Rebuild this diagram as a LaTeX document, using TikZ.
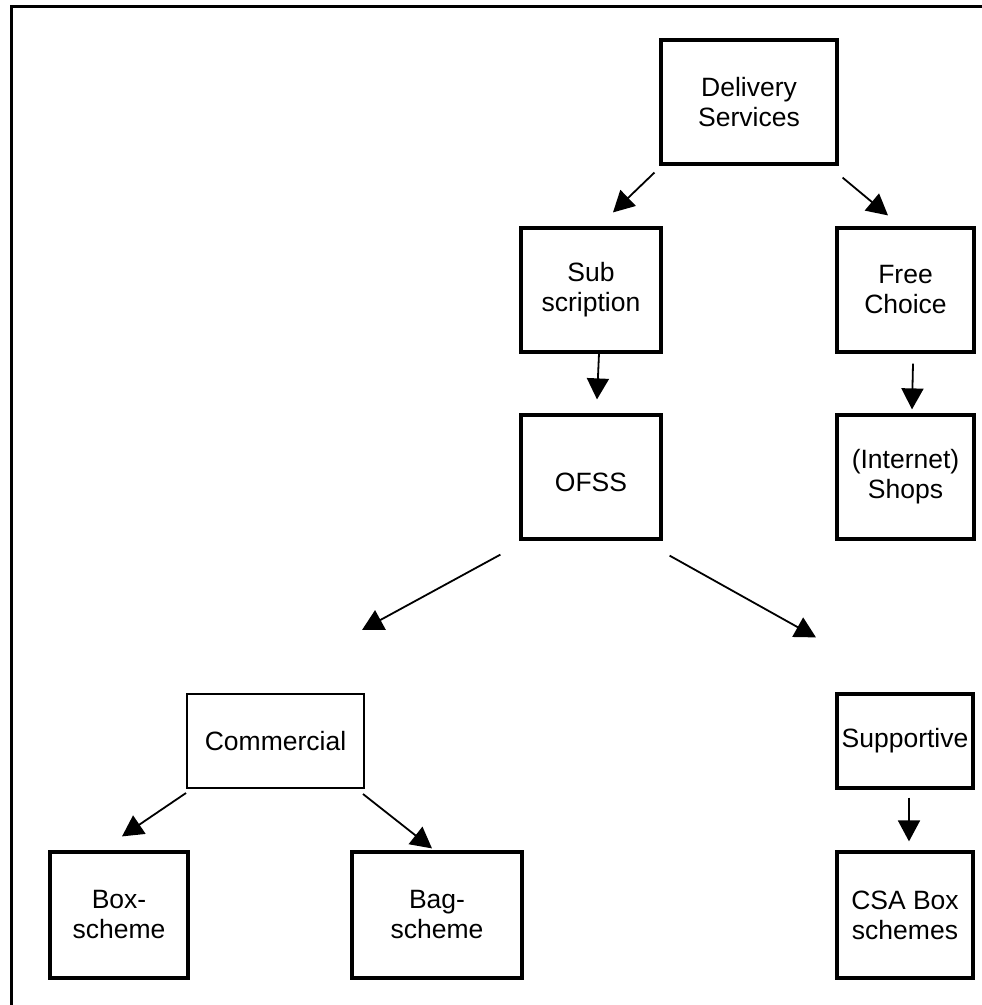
\documentclass[tikz,border=0pt]{standalone}
\usepackage{fontspec}
\setmainfont{Liberation Sans}
\usetikzlibrary{arrows.meta,calc}
\begin{document}
\begin{tikzpicture}[x=1pt,y=-1pt,
  box/.style={draw,line width=3.2pt,rectangle,inner sep=0pt,align=center,
    font=\fontsize{26.5}{30}\selectfont},
  thinbox/.style={box,line width=2pt},
  arr/.style={line width=1.8pt,-{Triangle[length=21pt,width=22pt]}},
  frame/.style={line width=2.8pt}]
\useasboundingbox (0,0) rectangle (982,1005);
\draw[frame] (11.8,1006) -- (11.8,6.7) -- (983,6.7);

\node[box,minimum width=176pt,minimum height=124pt] (del) at (749,102) {Delivery\\Services};
\node[box,minimum width=140pt,minimum height=124pt] (sub) at (591,290) {Sub\\scription};
\node[box,minimum width=137pt,minimum height=124pt] (free) at (905.5,290) {Free\\Choice};
\node[box,minimum width=140pt,minimum height=124pt] (ofss) at (591,477) {\mbox{}\\OFSS};
\node[box,minimum width=137pt,minimum height=124pt] (shops) at (905.5,477) {(Internet)\\Shops};
\node[thinbox,minimum width=177pt,minimum height=94pt] (com) at (275.5,741) {Commercial};
\node[box,minimum width=136pt,minimum height=94pt] (sup) at (905,741) {Supportive};
\node[box,minimum width=138pt,minimum height=126pt] (boxs) at (119,915) {Box-\\scheme};
\node[box,minimum width=170pt,minimum height=126pt] (bag) at (437,915) {Bag-\\scheme};
\node[box,minimum width=136pt,minimum height=126pt] (csa) at (905,915) {CSA Box\\schemes};

\draw[arr] ($(del.south west)+(-5,7)$) -- ($(sub.north)+(22,-14)$);
\draw[arr] ($(del.south east)+(4,12)$) -- ($(free.north)+(-17.5,-11)$);
\draw[arr] ($(sub.south)+(8,0)$) -- ($(ofss.north)+(6,-14)$);
\draw[arr] ($(free.south)+(7.5,10)$) -- ($(shops.north)+(6.5,-4)$);
\draw[arr] ($(ofss.south west)+(-19,14)$) -- ($(com.north)+(86.5,-63)$);
\draw[arr] ($(ofss.south east)+(7,15)$) -- ($(sup.north)+(-89,-55)$);
\draw[arr] ($(com.south west)+(0,4)$) -- ($(boxs.north)+(3,-14)$);
\draw[arr] ($(com.south east)+(-2,5)$) -- ($(bag.north)+(-5,-2)$);
\draw[arr] ($(sup.south)+(4,8)$) -- ($(csa.north)+(4,-9)$);
\end{tikzpicture}
\end{document}
